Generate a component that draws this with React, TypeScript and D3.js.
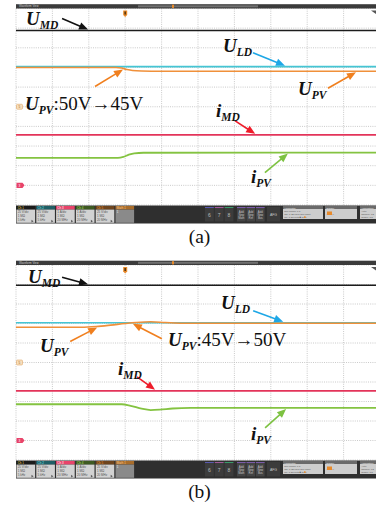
import React from 'react';
import * as d3 from 'd3';

type Pt = [number, number];

// Screen grid: 10 horizontal divisions, 10 vertical divisions (-5..5)
const timeTicks = d3.range(0, 11);
const levelTicks = d3.range(-5, 6);

// Channel settings (units per division, offset in divisions)
const chNames = ['UMD', 'ULD', 'UPV', 'iMD', 'iPV'];
const chUnitsPerDiv = [25, 25, 25, 1, 1];
const chOffsetDiv = [0, 0, 0, -4, -4];
const chColors = ['#1c1c1c', '#45c5d4', '#f0903a', '#e3345a', '#84c341'];
const chWidths = [1.4, 1.6, 1.6, 1.7, 1.8];

// Panel (a): time in divisions, values in V / A
const aUMD: Pt[] = [[0, 97], [10, 97]];
const aULD: Pt[] = [[0, 51], [10, 51]];
const aUPV: Pt[] = [[0, 50], [2.75, 50], [2.9, 49.2], [3.05, 47.3], [3.2, 46.1], [3.45, 45.5], [4.0, 45.2], [10, 45.1]];
const aIMD: Pt[] = [[0, 2.57], [10, 2.57]];
const aIPV: Pt[] = [[0, 1.4], [2.8, 1.4], [2.95, 1.45], [3.1, 1.56], [3.25, 1.63], [3.5, 1.66], [10, 1.67]];

// Panel (b)
const bUMD: Pt[] = [[0, 99], [10, 99]];
const bULD: Pt[] = [[0, 51], [10, 51]];
const bUPV: Pt[] = [[0, 45.2], [1.8, 45.2], [2.2, 46.1], [2.6, 47.9], [3.0, 50.0], [3.3, 51.3], [3.7, 52.2], [4.1, 51.3], [4.6, 50.4], [10, 50.3]];
const bIMD: Pt[] = [[0, 2.55], [10, 2.55]];
const bIPV: Pt[] = [[0, 1.86], [2.9, 1.86], [3.15, 1.78], [3.45, 1.63], [3.7, 1.56], [3.95, 1.58], [4.3, 1.64], [4.8, 1.67], [10, 1.67]];

// Channel boxes in the status bar
const chBoxLabels = ['Ch 1', 'Ch 2', 'Ch 3', 'Ch 4', 'Ch 5', 'Math 1'];
const chBoxHeads = ['#1b1b1b', '#1f5f66', '#e8436a', '#3e5a22', '#6e451e', '#a86c2a'];
const chBoxHeadText = ['#e8d84a', '#7fe0e8', '#ffffff', '#b8e070', '#f0a040', '#f5c890'];
const chBoxLines = [
  ['25 V/div', '1 MΩ', '5 kHz'],
  ['25 V/div', '1 MΩ', '5 kHz'],
  ['1 A/div', '1 MΩ', '20 MHz'],
  ['1 A/div', '1 MΩ', '20 MHz'],
  ['25 V/div', '1 MΩ', '20 MHz'],
  ['1', '', ''],
];

const SERIF = "'Liberation Serif', 'Times New Roman', 'DejaVu Serif', serif";
const SANS = "'Liberation Sans', Arial, sans-serif";

const xScale = d3.scaleLinear().domain([0, 10]).range([16, 380]);

function interp(data: Pt[], t: number): number {
  const xs = data.map(d => d[0]);
  const i = Math.max(1, Math.min(data.length - 1, d3.bisectLeft(xs, t)));
  const a = data[i - 1], b = data[i];
  const f = (t - a[0]) / (b[0] - a[0] || 1);
  return a[1] + (b[1] - a[1]) * f;
}

type Ann = { ch: number; t: number; dx: number; dy: number; color: string };
type Lab = { x: number; y: number; main: string; sub: string; tail?: string };

function Arrow({ x1, y1, x2, y2, color }: { x1: number; y1: number; x2: number; y2: number; color: string }) {
  const ang = Math.atan2(y2 - y1, x2 - x1);
  const L = 9, W = 3.8;
  const bx = x2 - L * Math.cos(ang), by = y2 - L * Math.sin(ang);
  const px = -Math.sin(ang) * W, py = Math.cos(ang) * W;
  return (
    <g>
      <line x1={x1} y1={y1} x2={bx + Math.cos(ang)} y2={by + Math.sin(ang)} stroke={color} strokeWidth={1.6} />
      <path d={`M${x2},${y2} L${bx + px},${by + py} L${bx - px},${by - py} Z`} fill={color} />
    </g>
  );
}

function Label({ x, y, main, sub, tail }: Lab) {
  return (
    <text x={x} y={y} fontFamily={SERIF} fontSize={19} fontWeight="bold" fontStyle="italic" fill="#111">
      {main}
      <tspan fontSize={11.5} dy={3.5}>{sub}</tspan>
      {tail ? <tspan dy={-3.5} fontStyle="normal" fontWeight="normal" fontSize={19}>{tail}</tspan> : null}
    </text>
  );
}

function StatusBar({ y }: { y: number }) {
  const h = 18;
  return (
    <g fontFamily={SANS}>
      <rect x={16} y={y} width={360} height={h} fill="#2f2f2f" />
      {chBoxLabels.map((lab, i) => {
        const x = 16.5 + i * 19.8;
        const isMath = i === 5;
        return (
          <g key={lab}>
            <rect x={x} y={y + 0.5} width={18.6} height={3.6} fill={chBoxHeads[i]} />
            <text x={x + 1.2} y={y + 3.4} fontSize={3} fill={chBoxHeadText[i]}>{lab}</text>
            <rect x={x} y={y + 4.1} width={18.6} height={13.2} fill={isMath ? '#8a8a8a' : '#d2d2d2'} />
            {chBoxLines[i].map((l, j) => (
              <text key={j} x={x + 1.2} y={y + 7.8 + j * 3.6} fontSize={3} fill={isMath ? '#eee' : '#555'}>{l}</text>
            ))}
            {!isMath && <path d={`M${x + 15},${y + 14.3} l2,1.5 l-2,1.2 Z`} fill="#555" />}
          </g>
        );
      })}
      {['6', '7', '8'].map((n, i) => {
        const x = 205 + i * 9.8;
        const top = ['#5a5ab0', '#a05a9a', '#3a9a6a'][i];
        return (
          <g key={n}>
            <rect x={x} y={y + 1.5} width={8.8} height={14.5} fill="#3c3c3c" />
            <rect x={x} y={y + 1.5} width={8.8} height={1} fill={top} />
            <text x={x + 4.4} y={y + 11.5} fontSize={5} fill="#bbb" textAnchor="middle">{n}</text>
          </g>
        );
      })}
      {['Math', 'Ref', 'Bus'].map((n, i) => {
        const x = 237 + i * 9.5;
        return (
          <g key={n}>
            <rect x={x} y={y + 1.5} width={8.6} height={14.5} fill="#444" />
            <rect x={x} y={y + 1.5} width={8.6} height={1} fill="#7a5aa8" />
            {['Add', 'New', n].map((w, j) => (
              <text key={j} x={x + 4.3} y={y + 7 + j * 3.3} fontSize={2.8} fill="#c8c8c8" textAnchor="middle">{w}</text>
            ))}
          </g>
        );
      })}
      <rect x={267} y={y + 1.5} width={13} height={14.5} fill="#3c3c3c" />
      <text x={273.5} y={y + 10} fontSize={3.5} fill="#c8c8c8" textAnchor="middle">AFG</text>
      {[
        { x: 283, w: 40, title: 'Horizontal', lines: ['500 ms/div      1 s', 'SR: 1.25 kS/s   800 ns/pt', 'RL: 1.25 kpts   ■ 50%'] },
        { x: 325, w: 32, title: 'Trigger', lines: ['', '        ⟋  47 V', ''] },
        { x: 360, w: 16, title: 'Acquisition', lines: ['Auto,', 'Sample: 12', 'Single: 1/1'] },
      ].map(b => (
        <g key={b.title}>
          <rect x={b.x} y={y + 0.5} width={b.w} height={13} fill="#cdcdcd" />
          <rect x={b.x} y={y + 0.5} width={b.w} height={3} fill="#6a6a6a" />
          <text x={b.x + 1.2} y={y + 3} fontSize={2.5} fill="#f0f0f0">{b.title}</text>
          {b.lines.map((l, j) => (
            <text key={j} x={b.x + 1.2} y={y + 6.5 + j * 3.2} fontSize={2.5} fill="#555">{l}</text>
          ))}
        </g>
      ))}
      <rect x={327} y={y + 6} width={5} height={3.5} fill="#e88a2a" />
      <rect x={304} y={y + 10.8} width={1.6} height={1.6} fill="#e88a2a" />
    </g>
  );
}

function Panel({ top, bottom, traces, anns, labels, caption, triggerT }: {
  top: number; bottom: number; traces: Pt[][]; anns: Ann[]; labels: Lab[]; caption: string; triggerT: number;
}) {
  const yScale = d3.scaleLinear().domain([-5, 5]).range([bottom, top]);
  const toDiv = (ch: number, v: number) => chOffsetDiv[ch] + v / chUnitsPerDiv[ch];
  const line = (ch: number) =>
    d3.line<Pt>().x(d => xScale(d[0])).y(d => yScale(toDiv(ch, d[1]))).curve(d3.curveMonotoneX);
  const [x0, x1] = xScale.range();
  const tx = xScale(triggerT);
  const y0 = yScale(0);
  const yRed = yScale(chOffsetDiv[3]);
  return (
    <g>
      <rect x={x0} y={top} width={376 - x0} height={bottom - top} fill="#ffffff" />
      {timeTicks.map(t => (
        <line key={'v' + t} x1={xScale(t)} x2={xScale(t)} y1={top} y2={bottom} stroke="#bdbdbd" strokeWidth={0.8} strokeDasharray="1 1.2" />
      ))}
      {levelTicks.map(l => (
        <line key={'h' + l} x1={x0} x2={x1} y1={yScale(l)} y2={yScale(l)} stroke="#bdbdbd" strokeWidth={0.8} strokeDasharray="1 1.2" />
      ))}
      {/* header */}
      <rect x={x0} y={top - 4.3} width={376 - x0} height={4.3} fill="#3b3b3b" />
      <text x={x0 + 3} y={top - 1.2} fontSize={2.8} fill="#cfcfcf" fontFamily={SANS}>Waveform View</text>
      <rect x={138} y={top - 3.2} width={120} height={2} fill="#707070" />
      <rect x={172} y={top - 3.8} width={2} height={3.2} fill="#e88a2a" />
      <path d={`M371,${top + 2} L376,${top + 2} L376,${top + 5.5} Z`} fill="#555" />
      {/* trigger marker */}
      <path d={`M${tx - 2},${top + 2} h4 v4.5 l-2,2 l-2,-2 Z`} fill="#e8892a" />
      <rect x={tx - 0.8} y={top + 3} width={1.6} height={3} fill="#5a3a10" />
      {/* channel markers */}
      <rect x={x0 + 0.5} y={y0 - 2.5} width={6} height={5} rx={1} fill="#f7dfbd" stroke="#e3a868" strokeWidth={0.6} />
      <text x={x0 + 3.5} y={y0 + 1.2} fontSize={3.2} fill="#a06020" textAnchor="middle" fontFamily={SANS}>5</text>
      <path d={`M${x0 + 0.5},${yRed - 2.6} h6 l2,2.6 l-2,2.6 h-6 Z`} fill="#e8436a" />
      <text x={x0 + 3.5} y={yRed + 1.2} fontSize={3.2} fill="#fff" textAnchor="middle" fontFamily={SANS}>3</text>
      {/* traces */}
      {traces.map((d, ch) => (
        <path key={chNames[ch]} d={line(ch)(d) || ''} fill="none" stroke={chColors[ch]} strokeWidth={chWidths[ch]} />
      ))}
      {/* annotations */}
      {anns.map((a, i) => {
        const x2 = xScale(a.t);
        const y2 = yScale(toDiv(a.ch, interp(traces[a.ch], a.t))) + (a.dy > 0 ? 1 : -1);
        return <Arrow key={i} x1={x2 + a.dx} y1={y2 + a.dy} x2={x2} y2={y2} color={a.color} />;
      })}
      {labels.map((l, i) => <Label key={i} {...l} />)}
      <StatusBar y={bottom + 0.5} />
      <text x={199.5} y={bottom + 38} fontFamily={SERIF} fontSize={19.5} fill="#111" textAnchor="middle">{caption}</text>
    </g>
  );
}

const BLACK = '#111111', CYAN = '#1ea7e6', ORANGE = '#f07f1e', RED = '#ee1c2a', GREEN = '#7dc242';

export default function App() {
  const annsA: Ann[] = [
    { ch: 0, t: 1.98, dx: -26, dy: -11, color: BLACK },
    { ch: 1, t: 7.39, dx: -32, dy: -13, color: CYAN },
    { ch: 2, t: 9.34, dx: -28, dy: 16, color: ORANGE },
    { ch: 2, t: 2.94, dx: -28, dy: 17, color: ORANGE },
    { ch: 3, t: 6.57, dx: -20, dy: -13, color: RED },
    { ch: 4, t: 7.47, dx: -23, dy: 19, color: GREEN },
  ];
  const labelsA: Lab[] = [
    { x: 26, y: 25, main: 'U', sub: 'MD' },
    { x: 223, y: 52, main: 'U', sub: 'LD' },
    { x: 298, y: 95, main: 'U', sub: 'PV' },
    { x: 25, y: 110, main: 'U', sub: 'PV', tail: ':50V→45V' },
    { x: 216, y: 117, main: 'i', sub: 'MD' },
    { x: 251, y: 183, main: 'i', sub: 'PV' },
  ];
  const annsB: Ann[] = [
    { ch: 0, t: 1.98, dx: -26, dy: -7, color: BLACK },
    { ch: 1, t: 7.34, dx: -30, dy: -11, color: CYAN },
    { ch: 2, t: 2.23, dx: -27, dy: 14, color: ORANGE },
    { ch: 2, t: 3.21, dx: 29, dy: 15, color: ORANGE },
    { ch: 3, t: 3.82, dx: -18, dy: -13, color: RED },
    { ch: 4, t: 7.42, dx: -21, dy: 19, color: GREEN },
  ];
  const labelsB: Lab[] = [
    { x: 28, y: 283, main: 'U', sub: 'MD' },
    { x: 221, y: 309, main: 'U', sub: 'LD' },
    { x: 40, y: 352, main: 'U', sub: 'PV' },
    { x: 168, y: 346, main: 'U', sub: 'PV', tail: ':45V→50V' },
    { x: 118, y: 375, main: 'i', sub: 'MD' },
    { x: 251, y: 440, main: 'i', sub: 'PV' },
  ];
  return (
    <svg width={376} height={508} viewBox="0 0 376 508" style={{ position: 'absolute', left: 0, top: 0, background: '#fff' }}>
      <rect width={376} height={508} fill="#fff" />
      <Panel top={8.5} bottom={205} traces={[aUMD, aULD, aUPV, aIMD, aIPV]} anns={annsA} labels={labelsA} caption="(a)" triggerT={3.0} />
      <Panel top={265} bottom={460} traces={[bUMD, bULD, bUPV, bIMD, bIPV]} anns={annsB} labels={labelsB} caption="(b)" triggerT={3.0} />
    </svg>
  );
}
